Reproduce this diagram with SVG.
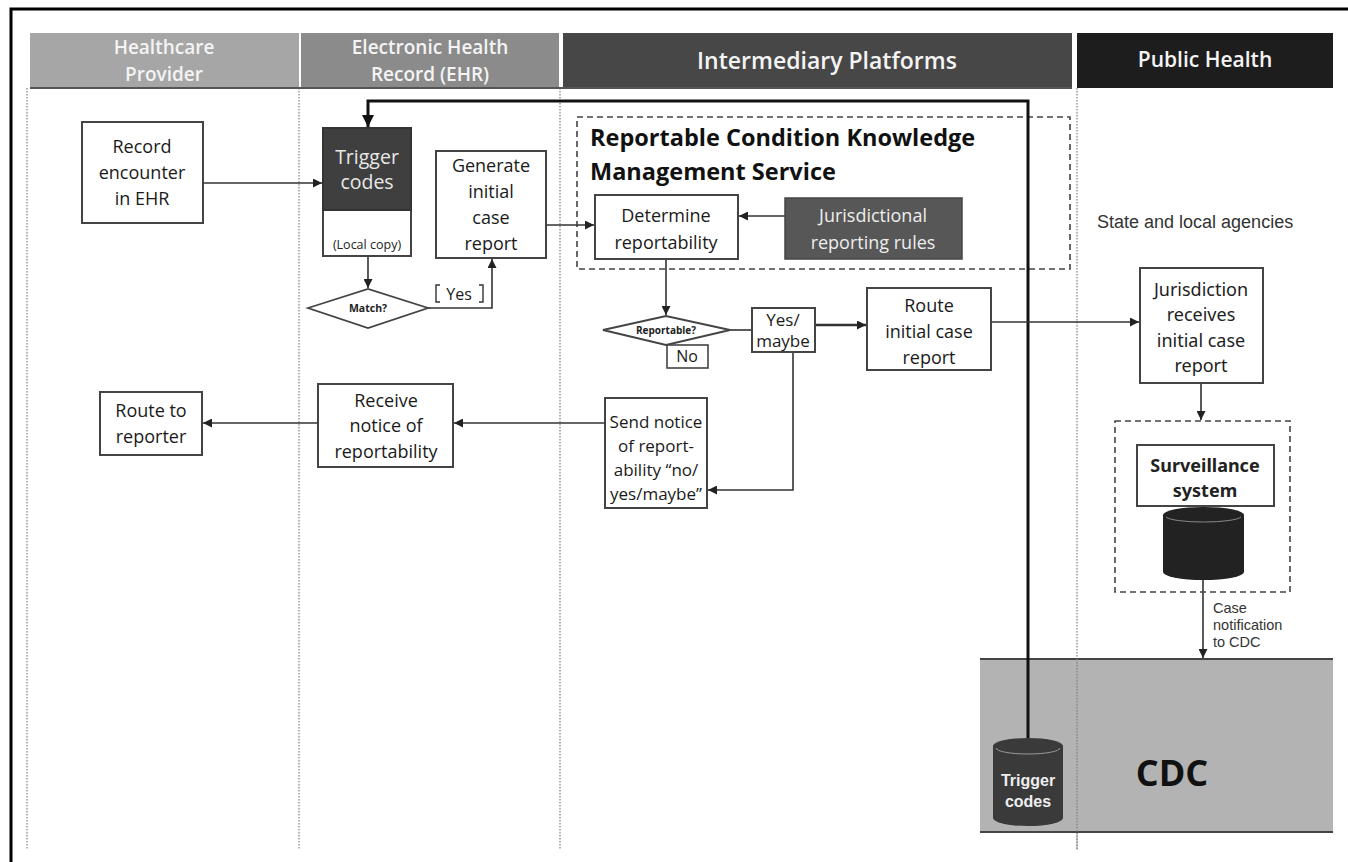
<svg xmlns="http://www.w3.org/2000/svg" width="1348" height="862" viewBox="0 0 1348 862">
<defs>
<marker id="ah" viewBox="0 0 10 10" refX="10" refY="5" markerWidth="9" markerHeight="9" markerUnits="userSpaceOnUse" orient="auto"><path d="M0,0 L10,5 L0,10 z" fill="#222"/></marker>
<marker id="ahb" viewBox="0 0 10 10" refX="10" refY="5" markerWidth="12" markerHeight="12" markerUnits="userSpaceOnUse" orient="auto"><path d="M0,0 L10,5 L0,10 z" fill="#111"/></marker>
<style>
.hd{font-family:"Open Sans","Liberation Sans",sans-serif;font-weight:600;font-size:19px;fill:#f4f4f4;text-anchor:middle}
.box{fill:#fff;stroke:#444;stroke-width:2}
.t{font-family:"Open Sans","Liberation Sans",sans-serif;font-size:18px;fill:#1a1a1a;text-anchor:middle}
.ts{font-family:"Open Sans","Liberation Sans",sans-serif;font-size:12.5px;fill:#222;text-anchor:middle}
.tb{font-family:"Open Sans","Liberation Sans",sans-serif;font-size:10.5px;font-weight:700;fill:#222;text-anchor:middle}
.ta{font-family:"Liberation Sans",Arial,sans-serif;fill:#333}
.tn{font-family:"Noto Sans","DejaVu Sans",sans-serif;font-size:18px;fill:#222;text-anchor:middle}
.lane{stroke:#999;stroke-width:1.5;stroke-dasharray:1.5 1.5;fill:none}
.ln{stroke:#333;stroke-width:1.6;fill:none}
.dash{fill:none;stroke:#444;stroke-width:1.6;stroke-dasharray:6 4}
</style>
</defs>
<rect width="1348" height="862" fill="#fff"/>
<g id="frame">
<path d="M11,862 V9 H1348" fill="none" stroke="#000" stroke-width="3"/>
</g>
<g id="lanes">
<line class="lane" x1="27" y1="88" x2="27" y2="850"/>
<line class="lane" x1="299" y1="88" x2="299" y2="850"/>
<line class="lane" x1="560" y1="88" x2="560" y2="850"/>
<line class="lane" x1="1077" y1="88" x2="1077" y2="850"/>
</g>
<g id="headers">
<rect x="30" y="33" width="269" height="55" fill="#a6a6a6"/>
<rect x="301" y="33" width="258" height="55" fill="#8b8b8b"/>
<rect x="563" y="33" width="509" height="55" fill="#474747"/>
<rect x="1077" y="33" width="256" height="55" fill="#1d1d1d"/>
<line x1="30" y1="88" x2="1072" y2="88" stroke="#555" stroke-width="2"/>
<text class="hd" x="164" y="54">Healthcare</text>
<text class="hd" x="164" y="81">Provider</text>
<text class="hd" x="430" y="54">Electronic Health</text>
<text class="hd" x="430" y="81">Record (EHR)</text>
<text class="hd" x="827" y="69" style="font-size:23px">Intermediary Platforms</text>
<text class="hd" x="1205" y="67" style="font-size:21px">Public Health</text>
</g>
<g id="cdc-band">
<rect x="980" y="659" width="353" height="173" fill="#b3b3b3"/>
<line x1="980" y1="659" x2="1333" y2="659" stroke="#444" stroke-width="2"/>
<line x1="980" y1="832" x2="1333" y2="832" stroke="#444" stroke-width="2"/>
<line class="lane" x1="1077" y1="659" x2="1077" y2="850" style="stroke:#888"/>
<text x="1172" y="786" style="font-family:'Open Sans','Liberation Sans',sans-serif;font-weight:700;font-size:36px;fill:#111;text-anchor:middle">CDC</text>
</g>
<g id="rckms">
<rect class="dash" x="577" y="117" width="493" height="152"/>
<text x="590" y="146" style="font-family:'Open Sans','Liberation Sans',sans-serif;font-weight:700;font-size:23.5px;fill:#111">Reportable Condition Knowledge</text>
<text x="590" y="180" style="font-family:'Open Sans','Liberation Sans',sans-serif;font-weight:700;font-size:23.5px;fill:#111">Management Service</text>
</g>
<g id="connectors">
<path d="M1028,738 V101 H368 V127" fill="none" stroke="#111" stroke-width="3" marker-end="url(#ahb)"/>
<line class="ln" x1="203" y1="183" x2="322" y2="183" marker-end="url(#ah)"/>
<line class="ln" x1="368" y1="256" x2="368" y2="288" marker-end="url(#ah)"/>
<path class="ln" d="M428,308 H492 V259" marker-end="url(#ah)"/>
<line class="ln" x1="546" y1="225" x2="594" y2="225" marker-end="url(#ah)"/>
<line class="ln" x1="785" y1="216" x2="739" y2="216" marker-end="url(#ah)"/>
<line class="ln" x1="666" y1="259" x2="666" y2="315" marker-end="url(#ah)"/>
<line class="ln" x1="730" y1="330" x2="752" y2="330"/>
<line class="ln" x1="815" y1="325" x2="866" y2="325" style="stroke-width:2.4" marker-end="url(#ah)"/>
<line class="ln" x1="991" y1="322" x2="1139" y2="322" marker-end="url(#ah)"/>
<path class="ln" d="M793,352 V490 H708" marker-end="url(#ah)"/>
<line class="ln" x1="605" y1="423" x2="454" y2="423" marker-end="url(#ah)"/>
<line class="ln" x1="318" y1="423" x2="203" y2="423" marker-end="url(#ah)"/>
<line class="ln" x1="1201" y1="383" x2="1201" y2="420" marker-end="url(#ah)"/>
<line class="ln" x1="1203" y1="580" x2="1203" y2="658" marker-end="url(#ah)"/>
</g>
<g id="record-encounter">
<rect class="box" x="82" y="122" width="121" height="101"/>
<text class="t" x="142" y="153">Record</text>
<text class="t" x="142" y="179">encounter</text>
<text class="t" x="142" y="205">in EHR</text>
</g>
<g id="trigger-codes">
<rect class="box" x="323" y="128" width="88" height="128"/>
<rect x="323" y="128" width="88" height="82" fill="#3f3f3f" stroke="#333" stroke-width="2"/>
<text class="t" x="367" y="164" style="fill:#e8e8e8;font-size:19.5px">Trigger</text>
<text class="t" x="367" y="189" style="fill:#e8e8e8;font-size:19.5px">codes</text>
<text class="ts" x="367" y="249">(Local copy)</text>
</g>
<g id="match">
<polygon points="308,308 368,289 428,308 368,328" fill="#fff" stroke="#444" stroke-width="1.8"/>
<text class="tb" x="368" y="312">Match?</text>
</g>
<g id="yes-label">
<path d="M440,285 H436 V302 H440 M479,285 H483 V302 H479" fill="none" stroke="#333" stroke-width="1.4"/>
<text class="t" x="459" y="300" style="font-size:16px">Yes</text>
</g>
<g id="generate">
<rect class="box" x="436" y="151" width="110" height="107"/>
<text class="t" x="491" y="172">Generate</text>
<text class="t" x="491" y="198">initial</text>
<text class="t" x="491" y="224">case</text>
<text class="t" x="491" y="250">report</text>
</g>
<g id="determine">
<rect class="box" x="595" y="195" width="143" height="64"/>
<text class="t" x="666" y="222">Determine</text>
<text class="t" x="666" y="249">reportability</text>
</g>
<g id="jurisdictional-rules">
<rect x="785" y="198" width="177" height="61" fill="#575757" stroke="#444" stroke-width="1.5"/>
<text class="t" x="873" y="222" style="fill:#eee">Jurisdictional</text>
<text class="t" x="873" y="249" style="fill:#eee">reporting rules</text>
</g>
<g id="reportable">
<polygon points="603,330 666,316 730,330 666,345" fill="#fff" stroke="#444" stroke-width="1.8"/>
<text class="tb" x="666" y="334" style="font-size:10px">Reportable?</text>
</g>
<g id="no-label">
<rect x="667" y="345" width="41" height="23" fill="#fff" stroke="#444" stroke-width="1.6"/>
<text class="t" x="687" y="362" style="font-size:16px">No</text>
</g>
<g id="yes-maybe">
<rect class="box" x="752" y="308" width="63" height="44"/>
<text class="t" x="783" y="326" style="font-size:17px">Yes/</text>
<text class="t" x="783" y="347" style="font-size:17px">maybe</text>
</g>
<g id="route-initial">
<rect class="box" x="867" y="288" width="124" height="82"/>
<text class="t" x="929" y="312">Route</text>
<text class="t" x="929" y="338">initial case</text>
<text class="t" x="929" y="364">report</text>
</g>
<g id="send-notice">
<rect class="box" x="605" y="398" width="102" height="110"/>
<text class="t" x="656" y="428" style="font-size:17px">Send notice</text>
<text class="t" x="656" y="452" style="font-size:17px">of report-</text>
<text class="t" x="656" y="476" style="font-size:17px">ability “no/</text>
<text class="t" x="656" y="500" style="font-size:17px">yes/maybe”</text>
</g>
<g id="receive-notice">
<rect class="box" x="318" y="384" width="135" height="83"/>
<text class="t" x="386" y="407">Receive</text>
<text class="t" x="386" y="432">notice of</text>
<text class="t" x="386" y="458">reportability</text>
</g>
<g id="route-reporter">
<rect class="box" x="100" y="392" width="102" height="63"/>
<text class="t" x="151" y="417">Route to</text>
<text class="t" x="151" y="443">reporter</text>
</g>
<g id="state-label">
<text class="ta" x="1097" y="228" style="font-size:18px">State and local agencies</text>
</g>
<g id="jurisdiction">
<rect class="box" x="1140" y="268" width="123" height="115"/>
<text class="tn" x="1201" y="296">Jurisdiction</text>
<text class="tn" x="1201" y="321">receives</text>
<text class="tn" x="1201" y="347">initial case</text>
<text class="tn" x="1201" y="372">report</text>
</g>
<g id="surveillance">
<rect class="dash" x="1115" y="421" width="175" height="171"/>
<rect class="box" x="1137" y="445" width="137" height="61"/>
<text class="tn" x="1205" y="472" style="font-weight:700">Surveillance</text>
<text class="tn" x="1205" y="497" style="font-weight:700">system</text>
<path d="M1163,515 A40.5,8 0 0 1 1244,515 V572 A40.5,8 0 0 1 1163,572 Z" fill="#222"/>
<path d="M1166,517 A38,6 0 0 0 1241,517" fill="none" stroke="#888" stroke-width="1"/>
</g>
<g id="case-label">
<text class="ta" x="1213" y="613" style="font-size:14.5px">Case</text>
<text class="ta" x="1213" y="630" style="font-size:14.5px">notification</text>
<text class="ta" x="1213" y="647" style="font-size:14.5px">to CDC</text>
</g>
<g id="cdc-trigger-codes">
<path d="M993,746 A35,8 0 0 1 1063,746 V818 A35,8 0 0 1 993,818 Z" fill="#3a3a3a"/>
<path d="M996,748 A32,6 0 0 0 1060,748" fill="none" stroke="#999" stroke-width="1"/>
<text class="ta" x="1028" y="786" style="font-size:16px;font-weight:700;fill:#eee;text-anchor:middle">Trigger</text>
<text class="ta" x="1028" y="807" style="font-size:16px;font-weight:700;fill:#eee;text-anchor:middle">codes</text>
</g>
</svg>
